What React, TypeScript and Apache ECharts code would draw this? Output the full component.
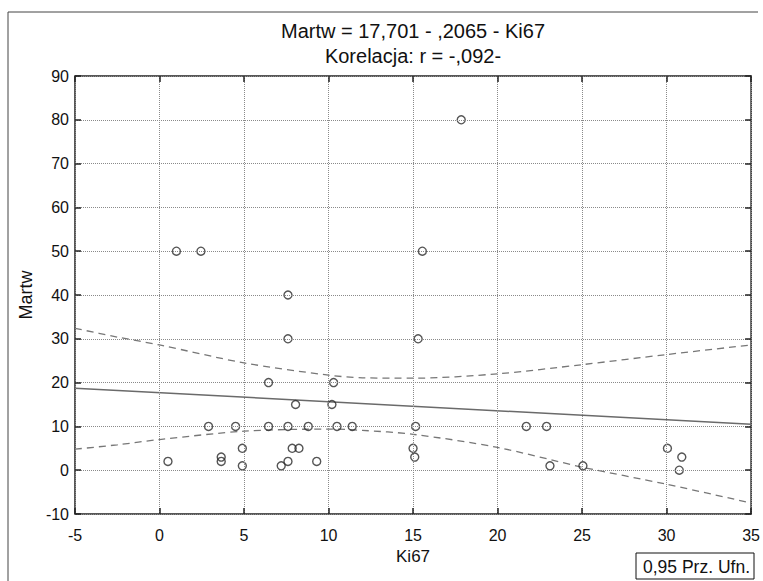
import React, { useEffect, useRef } from "react";
import * as echarts from "echarts";

// Scatter data (Ki67 vs Martw)
const ki67 = [
  0.5, 1.0, 2.45, 2.9, 3.65, 3.65, 4.5, 4.9, 4.9, 6.45, 6.45, 7.2, 7.6, 7.6, 7.6, 7.6,
  7.85, 8.05, 8.25, 8.8, 9.3, 10.3, 10.2, 10.5, 11.4, 15.15, 15.0, 15.1, 15.3, 15.55,
  17.85, 21.7, 22.9, 23.1, 25.05, 30.05, 30.9, 30.75,
];
const martw = [
  2, 50, 50, 10, 3, 2, 10, 5, 1, 20, 10, 1, 40, 30, 10, 2,
  5, 15, 5, 10, 2, 20, 15, 10, 10, 10, 5, 3, 30, 50,
  80, 10, 10, 1, 1, 5, 3, 0,
];

// Regression line end points
const regX = [-5, 35];
const regY = [18.73, 10.47];

// 0.95 confidence band
const bandX = [-5, -2.5, 0, 5, 10, 12, 15, 20, 25, 30, 35];
const bandUpper = [32.4, 30.4, 28.6, 24.5, 21.7, 21.1, 21.0, 22.0, 24.1, 26.4, 28.6];
const bandLower = [4.8, 5.8, 7.0, 8.9, 9.4, 9.1, 8.2, 5.2, 0.7, -3.2, -7.5];

// Axis settings
const xTicks = { min: -5, max: 35, interval: 5 };
const yTicks = { min: -10, max: 90, interval: 10 };

const titleLine1 = "Martw = 17,701 - ,2065 - Ki67";
const titleLine2 = "Korelacja: r = -,092-";
const legendText = "0,95 Prz. Ufn.";

const FONT = "'Liberation Sans', Arial, Helvetica, sans-serif";

export default function App() {
  const ref = useRef<HTMLDivElement>(null);

  useEffect(() => {
    if (!ref.current) return;
    const chart = echarts.init(ref.current, undefined, { renderer: "svg" });

    const pts = ki67.map((x, i) => [x, martw[i]]);
    const reg = regX.map((x, i) => [x, regY[i]]);
    const up = bandX.map((x, i) => [x, bandUpper[i]]);
    const lo = bandX.map((x, i) => [x, bandLower[i]]);

    const tick = () => ({ show: true, inside: true, length: 6, lineStyle: { color: "#222", width: 1.5 } });
    const gridLine = () => ({ show: true, lineStyle: { color: "#8a8a8a", type: "dotted", width: 1 } });
    const noLine = () => ({ show: false, onZero: false });

    chart.setOption({
      animation: false,
      backgroundColor: "#fff",
      textStyle: { fontFamily: FONT },
      grid: {
        left: 75,
        top: 76,
        width: 678,
        height: 438,
        show: true,
        borderColor: "#222",
        borderWidth: 1.5,
      },
      xAxis: [
        {
          type: "value",
          position: "bottom",
          ...xTicks,
          name: "Ki67",
          nameLocation: "middle",
          nameGap: 33,
          nameTextStyle: { fontSize: 17, color: "#111", fontFamily: FONT },
          axisLine: noLine(),
          axisTick: tick(),
          axisLabel: { fontSize: 16, color: "#111", margin: 13, fontFamily: FONT },
          splitLine: gridLine(),
          z: 5,
        },
        {
          type: "value",
          position: "top",
          ...xTicks,
          axisLine: noLine(),
          axisTick: tick(),
          axisLabel: { show: false },
          splitLine: { show: false },
          z: 5,
        },
      ],
      yAxis: [
        {
          type: "value",
          position: "left",
          ...yTicks,
          name: "Martw",
          nameLocation: "middle",
          nameGap: 38,
          nameTextStyle: { fontSize: 18, color: "#111", fontFamily: FONT },
          axisLine: noLine(),
          axisTick: tick(),
          axisLabel: { fontSize: 16, color: "#111", margin: 6, fontFamily: FONT },
          splitLine: gridLine(),
          z: 5,
        },
        {
          type: "value",
          position: "right",
          ...yTicks,
          axisLine: noLine(),
          axisTick: tick(),
          axisLabel: { show: false },
          splitLine: { show: false },
          z: 5,
        },
      ],
      series: [
        {
          type: "line",
          data: up,
          smooth: 0.3,
          symbol: "none",
          lineStyle: { color: "#777", width: 1.3, type: [7, 5] as any },
          z: 2,
        },
        {
          type: "line",
          data: lo,
          smooth: 0.3,
          symbol: "none",
          lineStyle: { color: "#777", width: 1.3, type: [7, 5] as any },
          z: 2,
        },
        {
          type: "line",
          data: reg,
          symbol: "none",
          lineStyle: { color: "#6a6a6a", width: 1.5 },
          z: 2,
        },
        {
          type: "scatter",
          data: pts,
          symbol: "circle",
          symbolSize: 8,
          itemStyle: { color: "rgba(255,255,255,0)", borderColor: "#2a2a2a", borderWidth: 1.4 },
          z: 3,
        },
      ],
      graphic: [
        { type: "line", shape: { x1: 8, y1: 12, x2: 758, y2: 12 }, style: { stroke: "#444", lineWidth: 1 } },
        { type: "line", shape: { x1: 8, y1: 12, x2: 8, y2: 590 }, style: { stroke: "#444", lineWidth: 1 } },
        {
          type: "text",
          x: 413,
          y: 31,
          style: { text: titleLine1, fontSize: 20, fontFamily: FONT, fill: "#111", align: "center", verticalAlign: "middle" },
        },
        {
          type: "text",
          x: 413,
          y: 56,
          style: { text: titleLine2, fontSize: 20, fontFamily: FONT, fill: "#111", align: "center", verticalAlign: "middle" },
        },
        {
          type: "rect",
          shape: { x: 636, y: 553, width: 118, height: 26 },
          style: { fill: "#fff", stroke: "#111", lineWidth: 1 },
        },
        {
          type: "text",
          x: 643,
          y: 566.5,
          style: { text: legendText, fontSize: 17.5, fontFamily: FONT, fill: "#111", align: "left", verticalAlign: "middle" },
        },
      ],
    });

    return () => chart.dispose();
  }, []);

  return (
    <div
      ref={ref}
      style={{ position: "fixed", left: 0, top: 0, width: 763, height: 581, background: "#fff" }}
    />
  );
}
